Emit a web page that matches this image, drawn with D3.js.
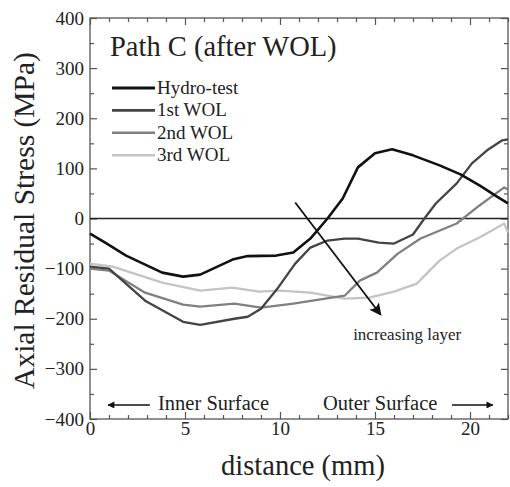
<!DOCTYPE html>
<html>
<head>
<meta charset="utf-8">
<script src="https://cdn.jsdelivr.net/npm/d3@7"></script>
<style>
  body { margin: 0; background: #fff; }
  text { font-family: "Liberation Serif", "Times New Roman", serif; fill: #222; }
</style>
</head>
<body>
<script>
// values (distance in mm, stress in MPa)
const hydroX = [0, 0.8, 1.9, 3.8, 4.9, 5.8, 7.5, 8.3, 9.8, 10.7, 11.6, 12.5, 13.3, 14.1, 15, 15.9, 17, 18.4, 19.5, 20.5, 21.4, 22];
const hydroY = [-30, -48, -74, -108, -116, -112, -82, -75, -74, -68, -40, 0, 40, 102, 130, 138, 126, 106, 88, 66, 44, 30];

const wol1X = [0, 1.0, 2.9, 4.9, 5.8, 7.6, 8.3, 9.0, 9.9, 10.8, 11.6, 12.5, 13.4, 14.1, 15.2, 16.0, 17.0, 17.6, 18.2, 19.3, 20.1, 20.9, 21.7, 22];
const wol1Y = [-96, -100, -164, -206, -212, -200, -196, -180, -138, -90, -58, -44, -40, -40, -48, -50, -32, 0, 30, 70, 110, 136, 156, 158];

const wol2X = [0, 1.0, 2.9, 4.9, 5.8, 7.6, 9.0, 10.7, 13.4, 14.2, 15.1, 16.2, 17.4, 19.3, 20.5, 21.8, 22];
const wol2Y = [-100, -104, -148, -172, -176, -170, -178, -170, -154, -124, -108, -70, -40, -10, 26, 62, 58];

const wol3X = [0, 1.2, 3.8, 5.8, 7.5, 8.9, 10, 11.6, 13.4, 14.7, 16, 17.2, 18.4, 19.3, 20.5, 21.8, 22];
const wol3Y = [-90, -96, -128, -144, -138, -146, -144, -148, -160, -158, -146, -130, -84, -60, -38, -10, -28];

const seriesNames = ["Hydro-test", "1st WOL", "2nd WOL", "3rd WOL"];
const seriesColors = ["#111", "#444", "#808080", "#c4c4c4"];

const xTicks = [0, 5, 10, 15, 20];
const yTicks = [-400, -300, -200, -100, 0, 100, 200, 300, 400];

const serif = '"Liberation Serif", "Times New Roman", serif';
const width = 510, height = 487;
const margin = { top: 18, right: 2, bottom: 68, left: 90 };

const svg = d3.select("body").append("svg")
    .attr("width", width)
    .attr("height", height);

const x = d3.scaleLinear().domain([0, 22]).range([margin.left, width - margin.right]);
const y = d3.scaleLinear().domain([-400, 400]).range([height - margin.bottom, margin.top]);

const axisColor = "#555";
function styleAxis(g) {
  g.attr("font-family", serif);
  g.select(".domain").remove();
  g.selectAll(".tick line").attr("stroke", axisColor).attr("stroke-width", 1.2);
  g.selectAll(".tick text")
      .style("font-family", serif)
      .style("font-size", "19px")
      .attr("fill", "#222");
}

// minor ticks
const xMinor = d3.range(0, 23, 1).filter(v => v % 5 !== 0);
const yMinor = d3.range(-350, 400, 100);

svg.append("g").attr("transform", `translate(0,${y(-400)})`)
    .call(d3.axisBottom(x).tickValues(xMinor).tickSize(-4).tickFormat(""))
    .call(styleAxis);
svg.append("g").attr("transform", `translate(0,${y(400)})`)
    .call(d3.axisTop(x).tickValues(xMinor).tickSize(-4).tickFormat(""))
    .call(styleAxis);
svg.append("g").attr("transform", `translate(${x(0)},0)`)
    .call(d3.axisLeft(y).tickValues(yMinor).tickSize(-4).tickFormat(""))
    .call(styleAxis);
svg.append("g").attr("transform", `translate(${x(22)},0)`)
    .call(d3.axisRight(y).tickValues(yMinor).tickSize(-4).tickFormat(""))
    .call(styleAxis);

// major ticks
svg.append("g").attr("transform", `translate(0,${y(-400)})`)
    .call(d3.axisBottom(x).tickValues(xTicks).tickSize(-7).tickPadding(2))
    .call(styleAxis);
svg.append("g").attr("transform", `translate(0,${y(400)})`)
    .call(d3.axisTop(x).tickValues(xTicks).tickSize(-7).tickFormat(""))
    .call(styleAxis);
svg.append("g").attr("transform", `translate(${x(0)},0)`)
    .call(d3.axisLeft(y).tickValues(yTicks).tickSize(-7).tickPadding(6))
    .call(styleAxis);
svg.append("g").attr("transform", `translate(${x(22)},0)`)
    .call(d3.axisRight(y).tickValues(yTicks).tickSize(-7).tickFormat(""))
    .call(styleAxis);

// frame
svg.append("rect")
    .attr("x", x(0)).attr("y", y(400))
    .attr("width", x(22) - x(0)).attr("height", y(-400) - y(400))
    .attr("fill", "none").attr("stroke", axisColor).attr("stroke-width", 1.3);

// zero line
svg.append("line")
    .attr("x1", x(0)).attr("x2", x(22))
    .attr("y1", y(0)).attr("y2", y(0))
    .attr("stroke", "#222").attr("stroke-width", 1.6);

const series = [
  { name: seriesNames[0], xs: hydroX, ys: hydroY },
  { name: seriesNames[1], xs: wol1X, ys: wol1Y },
  { name: seriesNames[2], xs: wol2X, ys: wol2Y },
  { name: seriesNames[3], xs: wol3X, ys: wol3Y }
];

const line = d3.line().x(d => x(d[0])).y(d => y(d[1]));

// draw lightest first so darker lines sit on top
series.slice().reverse().forEach(s => {
  const i = seriesNames.indexOf(s.name);
  svg.append("path")
      .datum(d3.zip(s.xs, s.ys))
      .attr("d", line)
      .attr("fill", "none")
      .attr("stroke", seriesColors[i])
      .attr("stroke-width", i === 0 ? 2.6 : 2.3)
      .attr("stroke-linejoin", "round");
});

// arrow markers
const defs = svg.append("defs");
defs.append("marker")
    .attr("id", "head")
    .attr("viewBox", "0 0 10 10")
    .attr("refX", 9).attr("refY", 5)
    .attr("markerWidth", 9).attr("markerHeight", 7)
    .attr("markerUnits", "userSpaceOnUse")
    .attr("orient", "auto")
  .append("path")
    .attr("d", "M0,0 L10,5 L0,10 Z")
    .attr("fill", "#111");
defs.append("marker")
    .attr("id", "bighead")
    .attr("viewBox", "0 0 10 10")
    .attr("refX", 9).attr("refY", 5)
    .attr("markerWidth", 16).attr("markerHeight", 12)
    .attr("markerUnits", "userSpaceOnUse")
    .attr("orient", "auto")
  .append("path")
    .attr("d", "M0,0 L10,5 L0,10 L2,5 Z")
    .attr("fill", "#111");

// "increasing layer" arrow
svg.append("line")
    .attr("x1", x(10.8)).attr("y1", y(32))
    .attr("x2", x(15.3)).attr("y2", y(-192))
    .attr("stroke", "#111").attr("stroke-width", 1.8)
    .attr("marker-end", "url(#bighead)");
svg.append("text")
    .attr("x", x(13.85)).attr("y", y(-242))
    .style("font-size", "17px")
    .text("increasing layer");

// surface arrows
svg.append("line")
    .attr("x1", x(3.15)).attr("y1", y(-372))
    .attr("x2", x(0.95)).attr("y2", y(-372))
    .attr("stroke", "#111").attr("stroke-width", 1.4)
    .attr("marker-end", "url(#head)");
svg.append("line")
    .attr("x1", x(19.05)).attr("y1", y(-372))
    .attr("x2", x(21.2)).attr("y2", y(-372))
    .attr("stroke", "#111").attr("stroke-width", 1.4)
    .attr("marker-end", "url(#head)");
svg.append("text")
    .attr("x", 158).attr("y", 410)
    .style("font-size", "20.5px")
    .text("Inner Surface");
svg.append("text")
    .attr("x", 323).attr("y", 410)
    .style("font-size", "20.5px")
    .text("Outer Surface");

// title
svg.append("text")
    .attr("x", 110).attr("y", 56)
    .style("font-size", "28.5px")
    .text("Path C (after WOL)");

// legend
const legend = svg.append("g")
    .selectAll("g")
    .data(seriesNames)
    .join("g")
    .attr("transform", (d, i) => `translate(112,${88 + i * 22.4})`);
legend.append("line")
    .attr("x1", 0).attr("x2", 43)
    .attr("stroke", (d, i) => seriesColors[i])
    .attr("stroke-width", (d, i) => i === 0 ? 3 : 2.6);
legend.append("text")
    .attr("x", 45).attr("y", 6)
    .style("font-size", "19px")
    .text(d => d);

// axis titles
svg.append("text")
    .attr("x", (x(0) + x(22)) / 2 + 4).attr("y", 475)
    .attr("text-anchor", "middle")
    .style("font-size", "28.5px")
    .text("distance (mm)");
svg.append("text")
    .attr("transform", `translate(34,${y(0) + 2}) rotate(-90)`)
    .attr("text-anchor", "middle")
    .style("font-size", "29.5px")
    .text("Axial Residual Stress (MPa)");
</script>
</body>
</html>
